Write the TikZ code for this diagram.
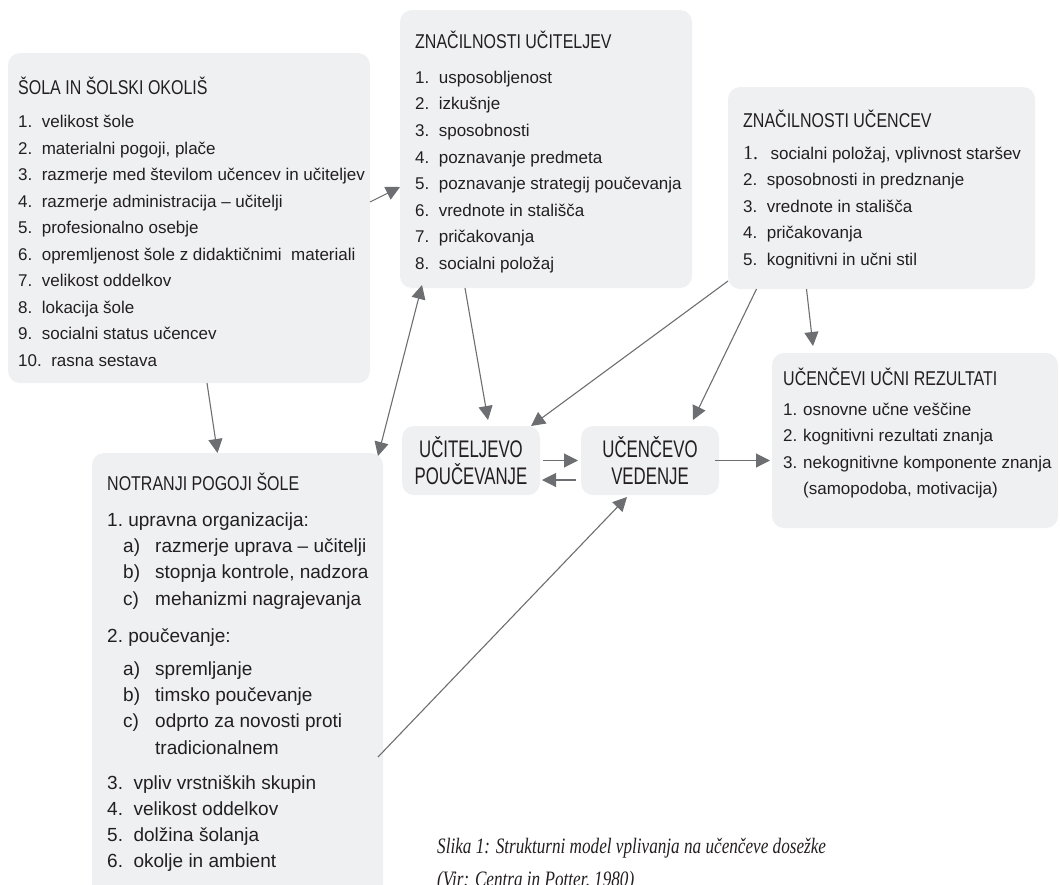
\documentclass[tikz,border=0pt]{standalone}
\usepackage{fontspec}
\setmainfont{Liberation Sans}
\newfontfamily\condfont{Liberation Sans}[FakeStretch=0.8]
\newfontfamily\narrowfont{Liberation Sans}[FakeStretch=0.7]
\newfontfamily\numfont{Liberation Serif}
\newfontfamily\capfont{Liberation Serif}[FakeStretch=0.78]
\usetikzlibrary{arrows.meta}
\definecolor{boxgray}{RGB}{239,240,242}
\definecolor{arrowgray}{RGB}{109,110,113}
\definecolor{textgray}{RGB}{35,31,32}
\newcommand{\subpt}[2]{\hspace*{16pt}\makebox[32pt][l]{#1}#2}

\begin{document}
\begin{tikzpicture}[x=1pt,y=-1pt,
    box/.style={fill=boxgray,rounded corners=12pt,anchor=north west,inner sep=0pt,outer sep=0pt},
    boxtitle/.style={anchor=base west,inner sep=0pt,text=textgray,font=\condfont\fontsize{20}{24}\selectfont},
    boxlist/.style={anchor=north west,inner sep=0pt,align=left,text=textgray,font=\fontsize{17}{26.5}\selectfont},
    midbox/.style={fill=boxgray,rounded corners=12pt,inner sep=0pt,outer sep=0pt,minimum width=138pt,minimum height=69pt,align=center,text=textgray,font=\narrowfont\fontsize{24}{27}\selectfont},
    arr/.style={draw=arrowgray,line width=1.1pt,-{Triangle[length=14pt,width=14pt]}},
    arrboth/.style={draw=arrowgray,line width=1.1pt,{Triangle[length=14pt,width=14pt]}-{Triangle[length=14pt,width=14pt]}}]
            \useasboundingbox (0,0) rectangle (1060,884);
            \clip (0,0) rectangle (1060,884);

            % School and surroundings
            \node[box,minimum width=362pt,minimum height=330pt] (sola) at (8,53) {};
            \node[boxtitle] (sola-title) at (18,94) {ŠOLA IN ŠOLSKI OKOLIŠ};
            \node[boxlist] (sola-list) at (18,109) {\strut 1.~~velikost šole\\
                2.~~materialni pogoji, plače\\
                3.~~razmerje med številom učencev in učiteljev\\
                4.~~razmerje administracija – učitelji\\
                5.~~profesionalno osebje\\
                6.~~opremljenost šole z didaktičnimi~~materiali\\
                7.~~velikost oddelkov\\
                8.~~lokacija šole\\
                9.~~socialni status učencev\\
                10.~~rasna sestava};

            % Teachers
            \node[box,minimum width=292pt,minimum height=278pt] (ucitelji) at (400,10) {};
            \node[boxtitle] (ucitelji-title) at (415,48) {ZNAČILNOSTI UČITELJEV};
            \node[boxlist,font=\fontsize{17}{26.6}\selectfont] (ucitelji-list) at (415,64.4) {\strut 1.~~usposobljenost\\
                2.~~izkušnje\\
                3.~~sposobnosti\\
                4.~~poznavanje predmeta\\
                5.~~poznavanje strategij poučevanja\\
                6.~~vrednote in stališča\\
                7.~~pričakovanja\\
                8.~~socialni položaj};

            % Pupils
            \node[box,minimum width=307pt,minimum height=202pt] (ucenci) at (728,87) {};
            \node[boxtitle] (ucenci-title) at (743,127) {ZNAČILNOSTI UČENCEV};
            \node[boxlist] (ucenci-list) at (743,140.5) {\strut {\numfont\fontsize{20}{20}\selectfont 1.}~~\hspace{3pt}socialni položaj, vplivnost staršev\\
                2.~~sposobnosti in predznanje\\
                3.~~vrednote in stališča\\
                4.~~pričakovanja\\
                5.~~kognitivni in učni stil};

            % Teaching and behaviour
            \node[midbox] (pouc) at (471,460.5) {UČITELJEVO\\POUČEVANJE};
            \node[midbox] (ved) at (650,460.5) {UČENČEVO\\VEDENJE};

            % Results
            \node[box,minimum width=286pt,minimum height=175pt] (rez) at (772,353) {};
            \node[boxtitle] (rez-title) at (783,385) {UČENČEVI UČNI REZULTATI};
            \node[boxlist] (rez-list) at (783,396.5) {\strut 1.~\hspace{1pt}osnovne učne veščine\\
                2.~\hspace{1pt}kognitivni rezultati znanja\\
                3.~\hspace{1pt}nekognitivne komponente znanja\\
                \hspace*{20pt}(samopodoba, motivacija)};

            % Inner conditions
            \node[box,minimum width=291pt,minimum height=460pt] (notr) at (92,453) {};
            \node[boxtitle] (notr-title) at (107,490) {NOTRANJI POGOJI ŠOLE};
            \node[boxlist,font=\fontsize{19}{26.3}\selectfont] (notr-list) at (107,507.6) {\strut 1.~upravna organizacija:\\
                \subpt{a)}{razmerje uprava – učitelji}\\
                \subpt{b)}{stopnja kontrole, nadzora}\\
                \subpt{c)}{mehanizmi nagrajevanja}\\[10.7pt]
                2.~poučevanje:\\[6.7pt]
                \subpt{a)}{spremljanje}\\
                \subpt{b)}{timsko poučevanje}\\
                \subpt{c)}{odprto za novosti proti}\\
                \hspace*{48pt}tradicionalnem\\[8.7pt]
                3.~~vpliv vrstniških skupin\\
                4.~~velikost oddelkov\\
                5.~~dolžina šolanja\\
                6.~~okolje in ambient};

            % Caption
            \node[anchor=north west,inner sep=0pt,align=left,text=textgray,font=\capfont\itshape\fontsize{22}{33}\selectfont] (caption) at (437,829.9) {\strut Slika 1: Strukturni model vplivanja na učenčeve dosežke\\
                (Vir: Centra in Potter, 1980)};

            % Influences
            \draw[arr] ([yshift=16pt]sola.east) -- ([yshift=-38pt]ucitelji.west);
            \draw[arr] ([xshift=18pt]sola.south) -- ([xshift=-20pt]notr.north);
            \draw[arrboth] ([xshift=-5pt,yshift=-3pt]notr.north east) -- ([xshift=-124pt,yshift=3pt]ucitelji.south);
            \draw[arr] ([xshift=-81pt]ucitelji.south) -- ([xshift=17pt,yshift=6pt]pouc.north);
            \draw[arr] ([yshift=8pt]ucenci.south west) -- ([xshift=-9pt]pouc.north east);
            \draw[arr] ([xshift=-125pt]ucenci.south) -- ([xshift=43pt,yshift=6pt]ved.north);
            \draw[arr] ([xshift=-75pt]ucenci.south) -- ([xshift=-102pt,yshift=7pt]rez.north);
            \draw[arr] ([xshift=-5pt,yshift=-304pt]notr.north east) -- ([xshift=-23pt,yshift=-2pt]ved.south);

            % Teaching <-> behaviour -> results
            \draw[arr] ([xshift=3pt]pouc.east) -- ([xshift=-3pt]ved.west);
            \draw[arr] ([xshift=-5pt,yshift=-19.5pt]ved.west) -- ([xshift=2pt,yshift=-19.5pt]pouc.east);
            \draw[arr] ([xshift=-4pt]ved.east) -- ([xshift=-2pt,yshift=-20pt]rez.west);

\end{tikzpicture}
\end{document}
